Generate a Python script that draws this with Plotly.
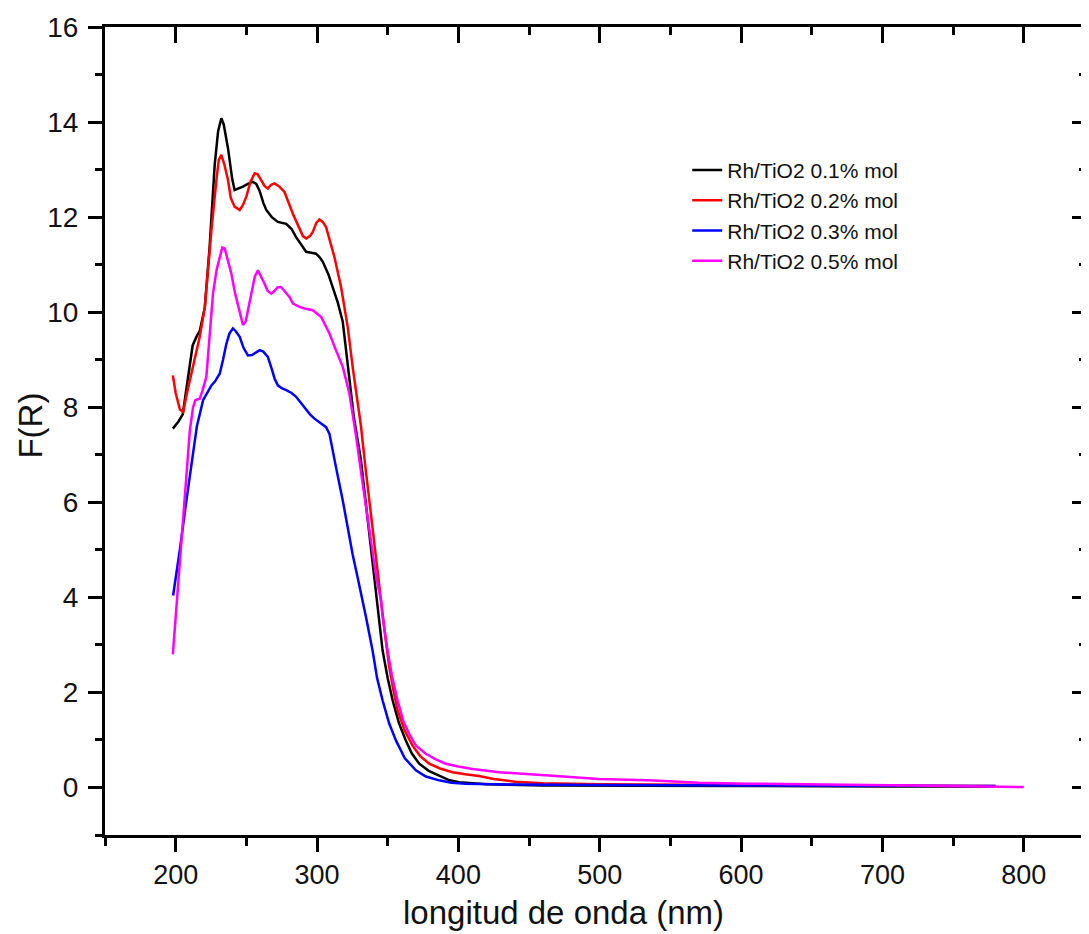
import plotly.graph_objects as go

# ---- data ----
series_names = ["Rh/TiO2 0.1% mol", "Rh/TiO2 0.2% mol", "Rh/TiO2 0.3% mol", "Rh/TiO2 0.5% mol"]
series_colors = ["#000000", "#FF0000", "#0000FF", "#FF00FF"]

x_01 = [198, 202, 205, 208, 212, 215, 217, 220.6, 224, 227.6, 230, 232.3, 234, 237, 240, 241.7, 245, 247.6, 251,
        254.6, 257, 259.4, 262, 264.1, 268, 272.3, 278.2, 282, 285.2, 289, 292.3, 296, 299.3, 302, 304.1, 308,
        311.1, 314.7, 318.2, 322, 326, 331, 334.5, 338, 341.7, 344.1, 346.4, 350, 353.5, 358, 362.8, 367, 372.3,
        379, 386.4, 393, 400.5, 420, 460, 520, 600, 700, 780]
y_01 = [7.55, 7.7, 7.85, 8.5, 9.3, 9.5, 9.6, 10.1, 11.37, 13.1, 13.8, 14.08, 13.95, 13.45, 12.8, 12.57, 12.6, 12.64,
        12.7, 12.74, 12.7, 12.55, 12.3, 12.15, 12.0, 11.9, 11.86, 11.75, 11.58, 11.4, 11.27, 11.25, 11.23, 11.15,
        11.06, 10.8, 10.53, 10.2, 9.8, 8.8, 7.8, 6.9, 6.0, 5.1, 4.1, 3.5, 2.88, 2.3, 1.83, 1.35, 0.99, 0.72, 0.5,
        0.35, 0.25, 0.16, 0.11, 0.07, 0.04, 0.03, 0.03, 0.02, 0.02]

x_02 = [198, 200, 203, 205.3, 208, 212.3, 215, 217, 220.6, 223, 225.3, 228.8, 230.5, 232.3, 234.5, 237, 239, 241.7,
        245.3, 247.5, 250, 253, 255.9, 258, 260.5, 263, 265.2, 267.5, 269.9, 273, 277, 280, 282.9, 287, 290, 292.3,
        295, 297, 299.5, 301.7, 304, 306.4, 309, 312.3, 317, 321.7, 325.2, 328, 331.1, 334, 337, 340, 343, 345,
        348, 351, 354, 357, 362, 367.6, 373, 379.4, 387, 395.9, 405, 414.6, 425, 440, 460, 500, 600, 700, 780]
y_02 = [8.67, 8.3, 7.95, 7.9, 8.3, 8.85, 9.2, 9.48, 10.1, 11.0, 11.73, 12.78, 13.2, 13.31, 13.1, 12.78, 12.4, 12.22,
        12.15, 12.25, 12.43, 12.75, 12.92, 12.9, 12.78, 12.65, 12.6, 12.68, 12.71, 12.65, 12.53, 12.3, 12.07, 11.8,
        11.6, 11.55, 11.6, 11.69, 11.88, 11.95, 11.9, 11.79, 11.5, 11.16, 10.53, 9.69, 8.85, 8.2, 7.6, 6.8, 6.0,
        5.2, 4.4, 4.0, 3.25, 2.55, 2.05, 1.62, 1.2, 0.88, 0.66, 0.5, 0.4, 0.32, 0.28, 0.24, 0.18, 0.12, 0.09, 0.07,
        0.05, 0.04, 0.03]

x_03 = [198.2, 200, 202.9, 207.6, 212.3, 215, 219.4, 222, 225.3, 228, 231.2, 233.5, 235.9, 238, 240.5, 242.5, 245.3,
        248, 251.1, 254, 257, 259.4, 262, 265.2, 268, 270, 272.3, 275, 278.2, 282, 285.2, 289, 292.3, 295, 298.2,
        302, 306.4, 308.8, 310, 313.4, 318.2, 322, 325.2, 328.5, 332.3, 334.6, 339.3, 342.5, 346.4, 351, 355.8,
        362, 369.9, 377, 386.4, 395, 405.2, 440, 500, 600, 700, 780]
y_03 = [4.04, 4.4, 4.99, 6.04, 7.09, 7.6, 8.15, 8.3, 8.46, 8.55, 8.71, 9.0, 9.34, 9.55, 9.66, 9.6, 9.48, 9.25, 9.09,
        9.1, 9.15, 9.2, 9.17, 9.06, 8.8, 8.6, 8.46, 8.4, 8.36, 8.3, 8.22, 8.08, 7.94, 7.85, 7.76, 7.68, 7.58, 7.44,
        7.24, 6.74, 6.04, 5.4, 4.9, 4.45, 3.94, 3.59, 2.88, 2.3, 1.83, 1.35, 0.99, 0.62, 0.36, 0.23, 0.15, 0.1,
        0.08, 0.06, 0.05, 0.04, 0.03, 0.03]

x_05 = [198, 199, 200.6, 204.1, 207.6, 210, 212.3, 214, 217, 219, 221.7, 224, 226.4, 229, 231.2, 233, 234.7, 237,
        239.4, 242, 245.3, 247.6, 249.5, 251.5, 253.5, 256, 258.2, 260.5, 262.9, 265, 267.6, 270, 272, 274.6,
        277.5, 280.5, 283, 287.6, 292, 297, 302.9, 306.4, 308.8, 313.4, 318.2, 322.9, 327.6, 332.3, 336, 339.3,
        342, 345.2, 346.4, 349.9, 353, 357, 361, 365.2, 370, 377, 384, 391.1, 400, 410, 428.8, 464, 499.3, 534.6,
        569.9, 605, 650, 700, 750, 800]
y_05 = [2.8, 3.2, 3.94, 5.34, 6.74, 7.5, 8.0, 8.15, 8.18, 8.35, 8.64, 9.5, 10.39, 10.9, 11.16, 11.36, 11.34, 11.1,
        10.81, 10.4, 9.97, 9.73, 9.8, 10.1, 10.39, 10.75, 10.88, 10.75, 10.6, 10.45, 10.39, 10.45, 10.52, 10.53,
        10.42, 10.32, 10.18, 10.11, 10.07, 10.04, 9.9, 9.69, 9.55, 9.2, 8.85, 8.29, 7.4, 6.39, 5.6, 4.99, 4.4,
        3.94, 3.59, 2.88, 2.35, 1.83, 1.4, 1.13, 0.88, 0.71, 0.59, 0.5, 0.44, 0.39, 0.32, 0.25, 0.18, 0.15, 0.1,
        0.08, 0.06, 0.05, 0.03, 0.01]

x_range = [150, 844]
y_range = [-1, 16]
x_title = "longitud de onda (nm)"
y_title = "F(R)"

FONT = "Arial, 'Liberation Sans', sans-serif"
INK = "#111111"

fig = go.Figure()
for name, color, xs, ys in zip(series_names, series_colors,
                               [x_01, x_02, x_03, x_05], [y_01, y_02, y_03, y_05]):
    fig.add_trace(go.Scatter(x=xs, y=ys, mode="lines", name=name,
                             line=dict(color=color, width=2.5)))

axis_common = dict(showgrid=False, zeroline=False, linecolor="black",
                   tickcolor="black", tickwidth=3)

# the page body has an 8px margin, so the figure is 8px smaller than the window
fig.update_layout(
    width=1081, height=926,
    margin=dict(l=97, r=0, t=19, b=99),
    paper_bgcolor="white", plot_bgcolor="white",
    font=dict(family=FONT, color=INK, size=27),
    showlegend=True,
    legend=dict(x=0.5935, y=0.848, xanchor="left", yanchor="top",
                bgcolor="rgba(0,0,0,0)", borderwidth=0,
                font=dict(family=FONT, size=21, color=INK)),
    xaxis=dict(range=x_range, dtick=100, tick0=0, ticks="outside", ticklen=14,
               showline=True, mirror=True, linewidth=3, ticklabelstandoff=0,
               minor=dict(dtick=50, tick0=0, ticks="outside", ticklen=8, tickwidth=3, tickcolor="black"),
               tickfont=dict(size=27, family=FONT, color=INK), **axis_common),
    yaxis=dict(range=y_range, dtick=2, tick0=0, ticks="outside", ticklen=14,
               showline=True, mirror=True, linewidth=3, ticklabelstandoff=4,
               minor=dict(dtick=1, tick0=0, ticks="outside", ticklen=7, tickwidth=3, tickcolor="black"),
               tickfont=dict(size=28, family=FONT, color=INK), **axis_common),
    xaxis2=dict(range=x_range, overlaying="x", side="top", anchor="y", dtick=100, tick0=0,
                ticks="inside", ticklen=16, showticklabels=False, showline=False,
                minor=dict(dtick=50, tick0=0, ticks="inside", ticklen=8, tickwidth=3, tickcolor="black"),
                **axis_common),
    yaxis2=dict(range=y_range, overlaying="y", side="right", anchor="x", dtick=2, tick0=0,
                ticks="inside", ticklen=14, showticklabels=False, showline=False,
                minor=dict(dtick=1, tick0=0, ticks="inside", ticklen=7, tickwidth=3, tickcolor="black"),
                **axis_common),
    annotations=[
        dict(text=x_title, xref="paper", yref="paper", x=0.4675, y=-0.0955,
             xanchor="center", yanchor="middle", showarrow=False,
             font=dict(family=FONT, size=33, color=INK)),
        dict(text=y_title, xref="paper", yref="paper", x=-0.0762, y=0.507,
             xanchor="center", yanchor="middle", textangle=-90, showarrow=False,
             font=dict(family=FONT, size=33, color=INK)),
    ],
)

# empty trace so the mirrored tick axes (top/right) are drawn
fig.add_trace(go.Scatter(x=[], y=[], xaxis="x2", yaxis="y2", showlegend=False, hoverinfo="skip"))

fig.write_html("out.html")
